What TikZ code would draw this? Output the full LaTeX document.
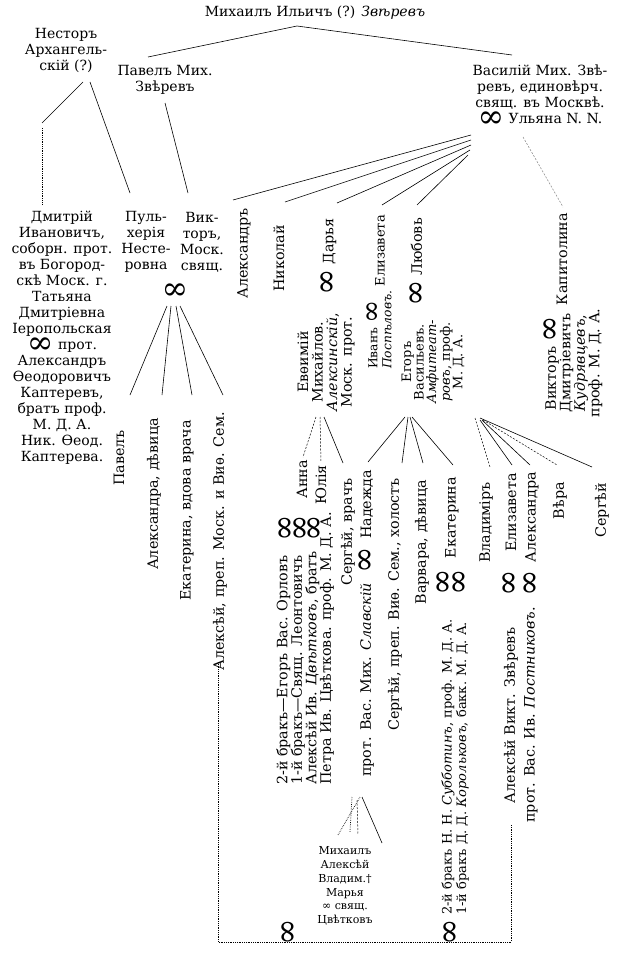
\documentclass[tikz,border=0pt]{standalone}
\usepackage{fontspec}
\setmainfont{DejaVu Serif}
\newcommand\binf{\raisebox{-3.5pt}{\smash{\fontsize{32}{16}\selectfont ∞}}}
\newcommand\sinf{\raisebox{-3pt}{\smash{\fontsize{28}{14}\selectfont ∞}}}
\tikzset{
 tx/.style={font=\fontsize{14}{16}\selectfont, align=center, inner sep=0pt},
 vt/.style={rotate=90, font=\fontsize{14.3}{14.5}\selectfont, inner sep=0pt},
 vb/.style={vt, align=center},
 vl/.style={vt, align=left},
 bigm/.style={font=\fontsize{32}{32}\selectfont, inner sep=0pt},
 vbig/.style={bigm, rotate=90},
 cn/.style={line width=0.6pt},
 dashl/.style={line width=0.5pt, dash pattern=on 2pt off 1.5pt},
 dotl/.style={line width=0.8pt, dash pattern=on 0.6pt off 1.2pt},
}
\begin{document}
\begin{tikzpicture}[x=1pt,y=-1pt]
\useasboundingbox (0,0) rectangle (640,955);
\fill[white] (0,0) rectangle (640,955);
% top generation
\node[tx] (mi) at (315,13) {Михаилъ Ильичъ (?) \textit{Звѣревъ}};
\coordinate (mis) at (297,26);
\coordinate (pavn) at (148,57);
\coordinate (vasn) at (512,55);
\draw[cn] (pavn) -- (mis) -- (vasn);
\node[tx] (nes) at (66,50) {Несторъ\\Архангель-\\скій (?)};
\node[tx] (pav) at (165,80) {Павелъ Мих.\\Звѣревъ};
\node[tx] (vas) at (540,96) {Василій Мих. Звѣ-\\ревъ, единовѣрч.\\свящ. въ Москвѣ.\\\binf\ Ульяна N. N.};
\coordinate (nesA) at (83,82); \coordinate (nesB) at (90,82);
\coordinate (dmA) at (42,123); \coordinate (dmB) at (42,128); \coordinate (dmC) at (42,205);
\coordinate (pulN) at (130,193);
\coordinate (pavS) at (165,103); \coordinate (vikN) at (188,193);
\draw[cn] (nesA) -- (dmA);
\draw[dotl] (dmB) -- (dmC);
\draw[cn] (nesB) -- (pulN);
\draw[cn] (pavS) -- (vikN);
% second generation, left
\node[tx] (dmi) at (62,338) {Дмитрій\\Ивановичъ,\\соборн. прот.\\въ Богород-\\скѣ Моск. г.\\Татьяна\\Дмитріевна\\Іеропольская\\\binf\ прот.\\Александръ\\Ѳеодоровичъ\\Каптеревъ,\\братъ проф.\\М. Д. А.\\Ник. Ѳеод.\\Каптерева.};
\node[tx] (pul) at (146,242) {Пуль-\\херія\\Несте-\\ровна};
\node[tx] (vik) at (202,242) {Вик-\\торъ,\\Моск.\\свящ.};
\node[bigm] (m1) at (175,292) {∞};
\coordinate (f1a) at (167,306); \coordinate (f1b) at (171,306); \coordinate (f1c) at (176,306); \coordinate (f1d) at (180,306);
\coordinate (c1n) at (130,395); \coordinate (c2n) at (162,395); \coordinate (c3n) at (192,395); \coordinate (c4n) at (223,395);
\draw[cn] (f1a) -- (c1n); \draw[cn] (f1b) -- (c2n); \draw[cn] (f1c) -- (c3n); \draw[cn] (f1d) -- (c4n);
\node[vt, anchor=east] (c1) at (119,430) {Павелъ};
\node[vt, anchor=east] (c2) at (154,418) {Александра, дѣвица};
\node[vt, anchor=east] (c3) at (187,420) {Екатерина, вдова врача};
\node[vt, anchor=east] (c4) at (220,412) {Алексѣй, преп. Моск. и Виѳ. Сем.};
% Vasiliy's children
\coordinate (a1) at (471,135); \coordinate (a2) at (471,140); \coordinate (a3) at (471,145); \coordinate (a4) at (470,150); \coordinate (a5) at (468,155);
\coordinate (v1n) at (233,200); \coordinate (v2n) at (285,202); \coordinate (v3n) at (337,203); \coordinate (v4n) at (382,205); \coordinate (v5n) at (417,205);
\draw[cn] (a1) -- (v1n); \draw[cn] (a2) -- (v2n); \draw[cn] (a3) -- (v3n); \draw[cn] (a4) -- (v4n); \draw[cn] (a5) -- (v5n);
\coordinate (a6) at (523,137); \coordinate (v6n) at (563,207);
\draw[dashl, gray] (a6) -- (v6n);
\node[vt, anchor=east] (v1) at (244,208) {Александръ};
\node[vt, anchor=east] (v2) at (279,225) {Николай};
\node[vt, anchor=east] (v3) at (330,218) {\binf\ Дарья};
\node[vt, anchor=east, font=\fontsize{13}{14}\selectfont] (v4) at (380,215) {Елизавета};
\node[vt, anchor=east] (v5) at (418,218) {\binf\ Любовь};
\node[vt, anchor=east] (v6) at (562,213) {Капитолина};
% spouses
\node[vb] (s1) at (326,362) {Евѳимій\\Михайлов.\\\textit{Алексинскій},\\Моск. прот.};
\node[vl, anchor=west, font=\fontsize{12.3}{14}\selectfont] (s2) at (380,369) {Иванъ \sinf\\\textit{Поспѣловъ.}};
\node[vb, font=\fontsize{13}{12.5}\selectfont] (s3) at (433,362) {Егоръ\\Васильевъ.\\\textit{Амфитеат-}\\\textit{ровъ}, проф.\\М. Д. А.};
\node[vb] (s4) at (574,363) {Викторъ \binf\\Дмитріевичъ\\\textit{Кудрявцевъ},\\проф. М. Д. А.};
% children of Evfimiy
\coordinate (e0a) at (316,417); \coordinate (e0b) at (320,417); \coordinate (e0c) at (324,417);
\coordinate (g1n) at (303,457); \coordinate (g2n) at (321,462); \coordinate (g3n) at (343,463);
\draw[dashl] (e0a) -- (g1n); \draw[dashl] (e0b) -- (g2n); \draw[cn] (e0c) -- (g3n);
\node[vt, anchor=east] (g1) at (302,460) {Анна};
\node[vt, anchor=east] (g2) at (321,465) {Юлія};
\node[vbig] (gm1) at (287,528) {∞};
\node[vbig] (gm2) at (302,528) {∞};
\node[vbig] (gm3) at (316,528) {∞};
\node[vl, anchor=west] (s5) at (305,785) {2-й бракъ—Егоръ Вас. Орловъ\\1-й бракъ—Свящ. Леонтовичъ\\Алексѣй Ив. \textit{Цвѣтковъ}, братъ\\Петра Ив. Цвѣткова. проф. М. Д. А.};
\node[vt, anchor=east] (g3) at (348,478) {Сергѣй, врачъ};
% children of Egor
\coordinate (h0a) at (405,417); \coordinate (h0b) at (408,417); \coordinate (h0c) at (410,417); \coordinate (h0d) at (412,417);
\coordinate (h1n) at (368,462); \coordinate (h2n) at (402,463); \coordinate (h3n) at (423,463); \coordinate (h4n) at (453,465);
\draw[cn] (h0a) -- (h1n); \draw[cn] (h0b) -- (h2n); \draw[cn] (h0c) -- (h3n); \draw[cn] (h0d) -- (h4n);
\node[vt, anchor=east] (h1) at (367,470) {Надежда};
\node[vbig] (hm) at (367,560) {∞};
\node[vt, anchor=east] (h1s) at (367,583) {прот. Вас. Мих. \textit{Славскій}};
\node[vt, anchor=east] (h2) at (395,478) {Сергѣй, преп. Виѳ. Сем., холостъ};
\node[vt, anchor=east] (h3) at (422,480) {Варвара, дѣвица};
\node[vt, anchor=east] (h4) at (452,477) {Екатерина};
\node[vbig] (hm1) at (445,582) {∞};
\node[vbig] (hm2) at (461,582) {∞};
\node[vl, anchor=west, font=\fontsize{13}{14.5}\selectfont] (h4s) at (455,915) {2-й бракъ Н. Н. \textit{Субботинъ}, проф. М. Д. А.\\1-й бракъ Д. Д. \textit{Корольковъ}, бакк. М. Д. А.};
% children of Viktor Kudryavtsev
\coordinate (k0a) at (475,418); \coordinate (k0b) at (480,420); \coordinate (k0c) at (482,420); \coordinate (k0d) at (483,420); \coordinate (k0e) at (480,418);
\coordinate (k1n) at (490,467); \coordinate (k2n) at (512,465); \coordinate (k3n) at (530,465); \coordinate (k4n) at (557,465); \coordinate (k5n) at (592,467);
\draw[dashl] (k0a) -- (k1n); \draw[cn] (k0b) -- (k2n); \draw[cn] (k0c) -- (k3n); \draw[dashl] (k0d) -- (k4n); \draw[cn] (k0e) -- (k5n);
\node[vt, anchor=east] (k1) at (486,482) {Владиміръ};
\node[vt, anchor=east] (k2) at (511,473) {Елизавета};
\node[vbig] (km2) at (511,583) {∞};
\node[vt, anchor=east] (k2s) at (511,627) {Алексѣй Викт. Звѣревъ};
\node[vt, anchor=east] (k3) at (532,472) {Александра};
\node[vbig] (km3) at (532,583) {∞};
\node[vt, anchor=east] (k3s) at (531,607) {прот. Вас. Ив. \textit{Постниковъ}.};
\node[vt, anchor=east] (k4) at (560,482) {Вѣра};
\node[vt, anchor=east] (k5) at (602,483) {Сергѣй};
% Slavskiy children
\coordinate (m0a) at (360,797); \coordinate (m0b) at (352,797); \coordinate (m0c) at (357,800); \coordinate (m0d) at (362,797);
\coordinate (m1n) at (338,835); \coordinate (m2n) at (350,832); \coordinate (m3n) at (358,834); \coordinate (m4n) at (382,843);
\draw[dotl] (m0a) -- (m1n); \draw[dotl] (m0b) -- (m2n); \draw[dashl] (m0c) -- (m3n); \draw[cn] (m0d) -- (m4n);
\node[tx, font=\fontsize{11}{13.8}\selectfont] (s6) at (345,886) {Михаилъ\\Алексѣй\\Владим.†\\Марья\\∞ свящ.\\Цвѣтковъ};
% bottom
\node[vbig] (bm1) at (290,932) {∞};
\node[vbig] (bm2) at (452,932) {∞};
\coordinate (dA) at (218,662); \coordinate (dB) at (218,942); \coordinate (dC) at (511,942); \coordinate (dD) at (511,825);
\draw[dotl] (dA) -- (dB) -- (dC) -- (dD);
\end{tikzpicture}
\end{document}
